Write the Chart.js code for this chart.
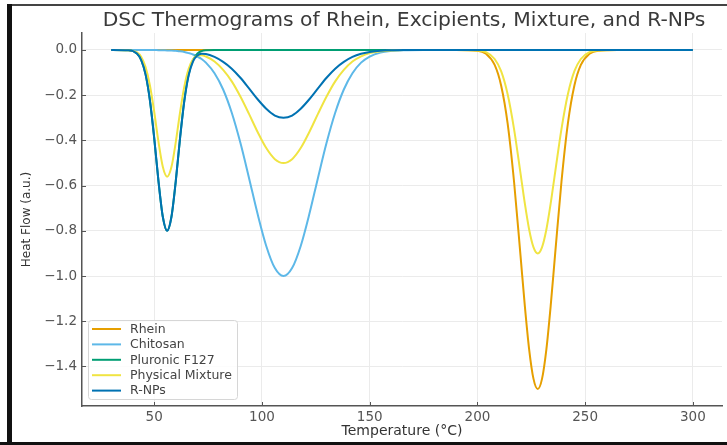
<!DOCTYPE html>
<html><head><meta charset="utf-8">
<script src="https://cdn.jsdelivr.net/npm/chart.js@4"></script>
<style>
html,body{margin:0;padding:0;background:#fff;}
#wrap{position:relative;width:727px;height:445px;overflow:hidden;background:#fff;}
canvas{position:absolute;left:0;top:0;}
.fr{position:absolute;}
</style></head><body>
<div id="wrap">
<canvas id="c" width="727" height="445"></canvas>
<div class="fr" style="left:7px;top:4px;width:720px;height:2px;background:#444"></div>
<div class="fr" style="left:7px;top:4px;width:5px;height:441px;background:#111"></div>
<div class="fr" style="left:0;top:442px;width:727px;height:3px;background:#111"></div>
</div>
<script>
// Temperature sample points (°C)
const temperatures = [30, 38, 42, 44, 46, 48, 50, 52, 54, 56, 58, 60, 62, 64, 66, 68, 70, 72, 74,
  78, 82, 86, 90, 94, 98, 102, 106, 110, 114, 118, 122, 126, 130, 134, 138, 142, 146, 150,
  155, 160, 166, 175, 190, 200, 204, 208, 211, 214, 217, 220, 222, 224, 226, 228, 230, 232,
  234, 236, 239, 242, 245, 248, 252, 256, 265, 300];

const rhein = [0, 0, 0, 0, 0, 0, 0, 0, 0, 0, 0, 0, 0, 0, 0, 0, 0, 0, 0,
  0, 0, 0, 0, 0, 0, 0, 0, 0, 0, 0, 0, 0, 0, 0, 0, 0, 0, 0,
  0, 0, 0, 0, 0, -0.003, -0.017, -0.066, -0.157, -0.324, -0.583, -0.910, -1.132, -1.324, -1.454, -1.500, -1.454, -1.324,
  -1.132, -0.910, -0.583, -0.324, -0.157, -0.066, -0.017, -0.003, 0, 0];

const chitosan = [0, 0, 0, 0, 0, 0, 0, -0.001, -0.001, -0.002, -0.002, -0.004, -0.006, -0.009, -0.014, -0.020, -0.029, -0.040, -0.056,
  -0.103, -0.175, -0.278, -0.411, -0.566, -0.726, -0.867, -0.965, -1.000, -0.965, -0.867, -0.726, -0.566, -0.411, -0.278, -0.175, -0.103, -0.056, -0.029,
  -0.011, -0.004, -0.001, 0, 0, 0, 0, 0, 0, 0, 0, 0, 0, 0, 0, 0, 0, 0,
  0, 0, 0, 0, 0, 0, 0, 0, 0, 0];

const pluronicF127 = [0, -0.001, -0.016, -0.045, -0.108, -0.222, -0.389, -0.581, -0.738, -0.800, -0.738, -0.581, -0.389, -0.222, -0.108, -0.045, -0.016, -0.005, -0.001,
  0, 0, 0, 0, 0, 0, 0, 0, 0, 0, 0, 0, 0, 0, 0, 0, 0, 0, 0,
  0, 0, 0, 0, 0, 0, 0, 0, 0, 0, 0, 0, 0, 0, 0, 0, 0, 0,
  0, 0, 0, 0, 0, 0, 0, 0, 0, 0];

const physicalMixture = [0, -0.001, -0.011, -0.031, -0.076, -0.156, -0.273, -0.407, -0.517, -0.561, -0.518, -0.409, -0.276, -0.161, -0.083, -0.041, -0.025, -0.023, -0.029,
  -0.051, -0.088, -0.139, -0.206, -0.283, -0.363, -0.434, -0.483, -0.500, -0.483, -0.434, -0.363, -0.283, -0.206, -0.139, -0.088, -0.051, -0.028, -0.014,
  -0.006, -0.002, 0, 0, 0, -0.002, -0.010, -0.040, -0.094, -0.195, -0.350, -0.546, -0.679, -0.794, -0.872, -0.900, -0.872, -0.794,
  -0.679, -0.546, -0.350, -0.195, -0.094, -0.040, -0.010, -0.002, 0, 0];

const rNPs = [0, -0.001, -0.016, -0.045, -0.108, -0.222, -0.389, -0.581, -0.738, -0.800, -0.739, -0.582, -0.391, -0.225, -0.112, -0.051, -0.025, -0.017, -0.018,
  -0.031, -0.053, -0.083, -0.123, -0.170, -0.218, -0.260, -0.290, -0.300, -0.290, -0.260, -0.218, -0.170, -0.123, -0.083, -0.053, -0.031, -0.017, -0.009,
  -0.003, -0.001, 0, 0, 0, 0, 0, 0, 0, 0, 0, 0, 0, 0, 0, 0, 0, 0,
  0, 0, 0, 0, 0, 0, 0, 0, 0, 0];

const seriesNames = ['Rhein', 'Chitosan', 'Pluronic F127', 'Physical Mixture', 'R-NPs'];
const seriesValues = [rhein, chitosan, pluronicF127, physicalMixture, rNPs];
const seriesColors = ['#E69F00', '#5DB8E8', '#009E73', '#F0E442', '#0072B2'];

const xTickValues = [50, 100, 150, 200, 250, 300];
const yTickValues = [0.0, -0.2, -0.4, -0.6, -0.8, -1.0, -1.2, -1.4];

const titleText = 'DSC Thermograms of Rhein, Excipients, Mixture, and R-NPs';
const xTitle = 'Temperature (°C)';
const yTitle = 'Heat Flow (a.u.)';

const FONT = '"DejaVu Sans", sans-serif';

function fmtY(v) {
  if (Math.abs(v) < 1e-9) return '0.0';
  return (v < 0 ? '\u2212' : '') + Math.abs(v).toFixed(1);
}

const datasets = seriesNames.map((name, i) => ({
  label: name,
  data: temperatures.map((t, j) => ({x: t, y: seriesValues[i][j]})),
  borderColor: seriesColors[i],
  backgroundColor: seriesColors[i],
  borderWidth: 2,
  pointRadius: 0,
  fill: false,
  cubicInterpolationMode: 'monotone',
  order: seriesNames.length - 1 - i
}));

const titlePlugin = {
  id: 'topTitle',
  afterDraw(chart) {
    const ctx = chart.ctx, a = chart.chartArea;
    ctx.save();
    ctx.font = '20.3px ' + FONT;
    ctx.fillStyle = '#3a3a3a';
    ctx.textAlign = 'center';
    ctx.textBaseline = 'middle';
    ctx.fillText(titleText, (a.left + a.right) / 2 + 2, 21);
    ctx.restore();
  }
};

const innerTicks = {
  id: 'innerTicks',
  afterDraw(chart) {
    const ctx = chart.ctx, a = chart.chartArea;
    const xs = chart.scales.x, ys = chart.scales.y;
    ctx.save();
    ctx.strokeStyle = '#555';
    ctx.lineWidth = 1;
    ctx.beginPath();
    xs.ticks.forEach(t => {
      const px = Math.round(xs.getPixelForValue(t.value)) + 0.5;
      ctx.moveTo(px, a.bottom); ctx.lineTo(px, a.bottom - 4);
    });
    ys.ticks.forEach(t => {
      const py = Math.round(ys.getPixelForValue(t.value)) + 0.5;
      ctx.moveTo(a.left, py); ctx.lineTo(a.left + 4, py);
    });
    ctx.stroke();
    ctx.restore();
  }
};

const insideLegend = {
  id: 'insideLegend',
  afterDraw(chart) {
    const ctx = chart.ctx, a = chart.chartArea;
    const x0 = a.left + 6, y0 = a.bottom - 86, w = 149, h = 79;
    ctx.save();
    ctx.fillStyle = 'rgba(255,255,255,0.85)';
    ctx.strokeStyle = '#d6d6d6';
    ctx.lineWidth = 1;
    ctx.beginPath();
    ctx.roundRect(x0 + 0.5, y0 + 0.5, w, h, 3);
    ctx.fill(); ctx.stroke();
    ctx.font = '12.5px ' + FONT;
    ctx.textBaseline = 'middle';
    ctx.textAlign = 'left';
    chart.data.datasets.forEach((ds, i) => {
      const y = y0 + 9 + i * 15.4;
      ctx.strokeStyle = ds.borderColor;
      ctx.lineWidth = 2;
      ctx.beginPath(); ctx.moveTo(x0 + 4, y); ctx.lineTo(x0 + 33, y); ctx.stroke();
      ctx.fillStyle = '#444';
      ctx.fillText(ds.label, x0 + 42, y + 0.5);
    });
    ctx.restore();
  }
};

new Chart(document.getElementById('c'), {
  type: 'line',
  data: { datasets },
  options: {
    responsive: false,
    animation: false,
    devicePixelRatio: 1,
    layout: { padding: { left: 14, right: 5, top: 33, bottom: 0 } },
    plugins: { legend: { display: false }, tooltip: { enabled: false }, title: { display: false } },
    scales: {
      x: {
        type: 'linear',
        min: 16.5, max: 313.5,
        afterBuildTicks: s => { s.ticks = xTickValues.map(v => ({ value: v })); },
        afterFit: s => { s.height = 39; },
        ticks: { font: { family: FONT, size: 13.5 }, color: '#555', padding: 3, maxRotation: 0, callback: v => String(v) },
        grid: { color: '#ebebeb', lineWidth: 1, drawTicks: false },
        border: { display: true, color: '#555', width: 1.5 },
        title: { display: true, text: xTitle, font: { family: FONT, size: 14 }, color: '#333', padding: { top: 0, bottom: 5.5 } }
      },
      y: {
        type: 'linear',
        min: -1.575, max: 0.075,
        afterBuildTicks: s => { s.ticks = yTickValues.map(v => ({ value: v })); },
        afterFit: s => { s.width = 68; },
        ticks: { font: { family: FONT, size: 13.5 }, color: '#555', padding: 5, callback: v => fmtY(v) },
        grid: { color: '#ebebeb', lineWidth: 1, drawTicks: false },
        border: { display: true, color: '#555', width: 1.5 },
        title: { display: true, text: yTitle, font: { family: FONT, size: 12 }, color: '#333', padding: { top: 6, bottom: 0 } }
      }
    }
  },
  plugins: [titlePlugin, innerTicks, insideLegend]
});
</script>
</body></html>
